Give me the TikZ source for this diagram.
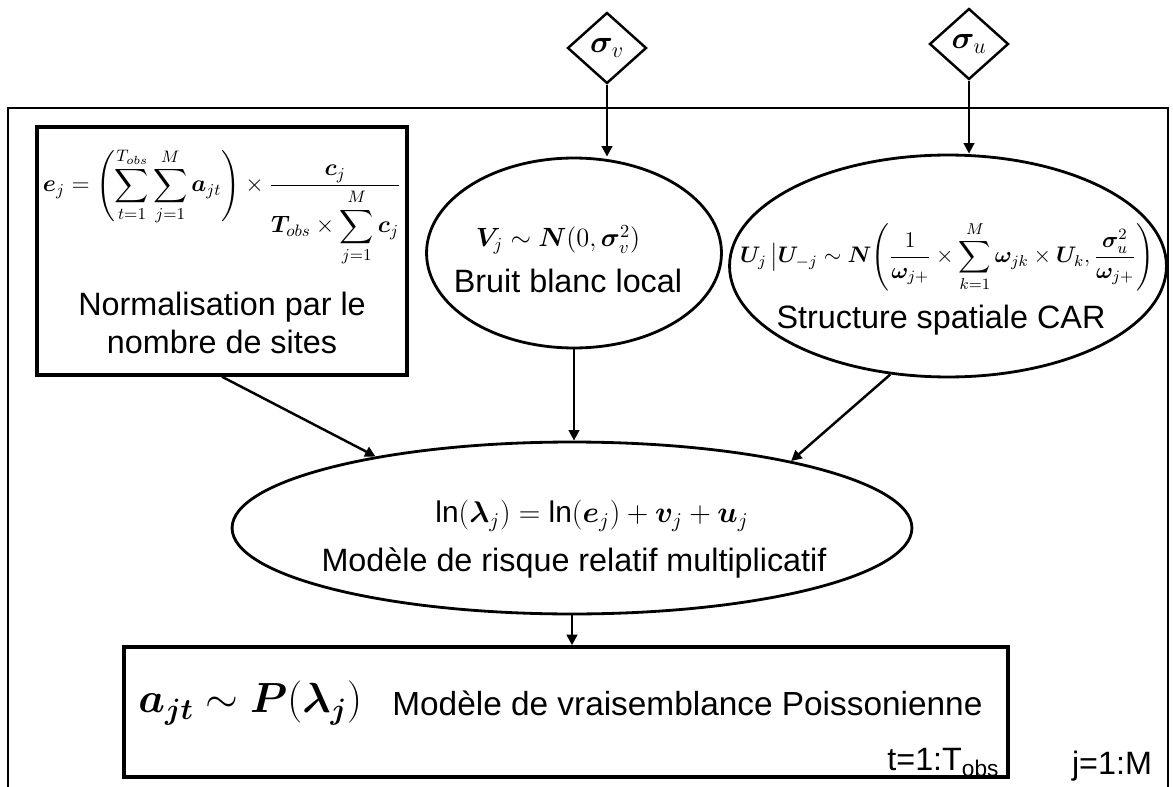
\RequirePackage{fix-cm}
\documentclass[tikz,border=0pt]{standalone}
\usepackage{amsmath}
\usepackage{amssymb}
\usepackage{bm}
\usepackage{fontspec}
\setmainfont{Liberation Sans}
\usetikzlibrary{shapes.geometric,arrows.meta,positioning,calc}

\begin{document}
\begin{tikzpicture}[
    x=0.02cm, y=-0.02cm,
    lbl/.style={font=\fontsize{18.4}{21}\selectfont, inner sep=0pt, align=center},
    prm/.style={diamond, draw=black, line width=1.4pt, minimum width=1.58cm, minimum height=1.42cm, inner sep=0pt, font=\fontsize{18}{22}\selectfont},
    ell/.style={ellipse, draw=black, line width=1.6pt, inner sep=0pt},
    bx/.style={rectangle, draw=black, line width=2pt, inner sep=0pt, align=center, font=\fontsize{18.4}{21.5}\selectfont},
    arr/.style={-{Triangle[length=6pt,width=6pt]}, line width=1.4pt}
]
    \useasboundingbox (0,0) rectangle (1173,787);

    % plate j=1:M
    \draw [line width=1.4pt] (8,800) -- (8,108) -- (1168,108) -- (1168,800);

    \node [prm] (sv) at (607,48) {$\bm{\sigma}_{v}$};
    \node [prm] (su) at (969,44) {$\bm{\sigma}_{u}$};

    \node [bx, minimum width=7.4cm, minimum height=4.96cm] (norm) at (222,251)
        {\fontsize{13.5}{16}\selectfont$\displaystyle \bm{e}_{j}=\left(\sum_{t=1}^{T_{obs}}\sum_{j=1}^{M}\bm{a}_{jt}\right)\times\frac{\bm{c}_{j}}{\bm{T}_{obs}\times\displaystyle\sum_{j=1}^{M}\bm{c}_{j}}$\\[14pt]
         Normalisation par le\\nombre de sites};

    \node [ell, minimum width=5.9cm, minimum height=3.8cm] (bruit) at (574,253) {};
    \node [lbl, font=\fontsize{15}{18}\selectfont] (bruitf) at (558,240) {$\bm{V}_{j}\sim\bm{N}(0,\bm{\sigma}_{v}^{2})$};
    \node [lbl] (bruitt) at (568,281) {Bruit blanc local};

    \node [ell, minimum width=8.74cm, minimum height=4.44cm] (car) at (948,266) {};
    \node [lbl, font=\fontsize{12.8}{15}\selectfont] (carf) at (947,257)
        {$\displaystyle \bm{U}_{j}\,\big|\bm{U}_{-j}\sim\bm{N}\!\left(\frac{1}{\bm{\omega}_{j+}}\times\sum_{k=1}^{M}\bm{\omega}_{jk}\times\bm{U}_{k},\frac{\bm{\sigma}_{u}^{2}}{\bm{\omega}_{j+}}\right)$};
    \node [lbl] (cart) at (941,320) {Structure spatiale CAR};

    \node [ell, minimum width=13.6cm, minimum height=3.44cm] (lam) at (572,528) {};
    \node [lbl, font=\fontsize{17}{20}\selectfont] (lamf) at (592,516) {$\ln(\bm{\lambda}_{j})=\ln(\bm{e}_{j})+\bm{v}_{j}+\bm{u}_{j}$};
    \node [lbl] (lamt) at (574,563) {Modèle de risque relatif multiplicatif};

    \node [bx, minimum width=17.68cm, minimum height=2.6cm] (pois) at (566,712) {};
    \node [lbl, anchor=west, font=\fontsize{24}{28}\selectfont] (poisf) at (138,703) {$\bm{a}_{\bm{jt}}\sim\bm{P}(\bm{\lambda}_{\bm{j}})$};
    \node [lbl, anchor=west, font=\fontsize{19}{22}\selectfont] (poist) at (392,703) {Modèle de vraisemblance Poissonienne};

    \node [lbl, anchor=south east] (tlab) at ($(pois.south east)+(-10,-2)$) {t=1:T\textsubscript{obs}};
    \node [lbl] (jlab) at (1112,766) {j=1:M};

    \draw [arr] (sv.south) -- (sv.south |- bruit.north);
    \draw [arr] (su.south) -- (su.south |- car.north);
    \draw [arr] (norm.south) -- (lam.160);
    \draw [arr] (bruit.south) -- (bruit.south |- lam.north);
    \draw [arr] (car.242) -- (lam.17);
    \draw [arr] (lam.south) -- (lam.south |- pois.north);
\end{tikzpicture}
\end{document}
